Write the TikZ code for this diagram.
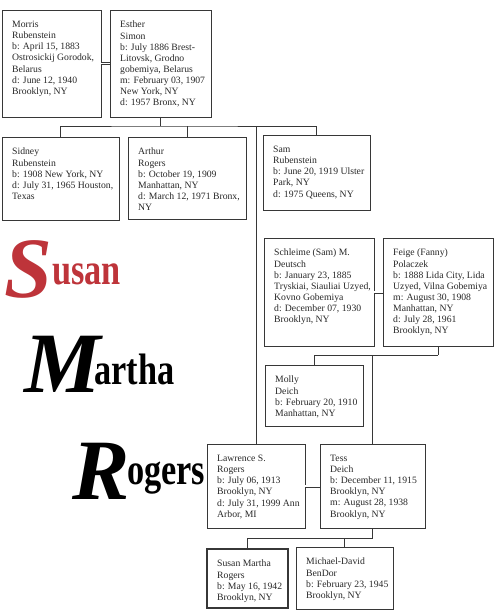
\documentclass[tikz,border=0pt]{standalone}
\usepackage{fontspec}
\setmainfont{Liberation Serif}
\newfontfamily\gothf{Liberation Serif Bold}[FakeStretch=0.78]
\newfontfamily\initf{Liberation Serif Bold Italic}
\usetikzlibrary{calc}
\definecolor{linec}{RGB}{55,55,55}
\definecolor{txt}{RGB}{40,40,40}
\definecolor{fred}{RGB}{190,52,58}
\tikzset{
  pbox/.style={draw=linec, line width=0.9pt, inner sep=0pt, outer sep=0pt, anchor=north west},
  ptext/.style={anchor=north west, inner sep=0pt, align=left, text=txt, font=\fontsize{9.7}{11.1}\selectfont},
  conn/.style={draw=linec, line width=0.9pt},
  dbl/.style={draw=linec, line width=0.7pt, double=white, double distance=1.6pt},
  initial/.style={anchor=base west, inner sep=0pt, font=\fontsize{86}{86}\initf},
  goth/.style={anchor=base west, inner sep=0pt, font=\fontsize{44}{44}\gothf}
}
\newcommand\fambox[6]{%
  \node[pbox, minimum width=#4pt, minimum height=#5pt] (#1) at (#2,#3) {};
  \node[ptext] (#1-t) at ([xshift=10pt,yshift=-11pt]#1.north west) {#6};}
\begin{document}
\begin{tikzpicture}[x=1pt,y=-1pt]
\useasboundingbox (0,0) rectangle (500,615);
\fill[white] (0,0) rectangle (500,615);

\fambox{morris}{2}{10}{99}{107}{Morris\\Rubenstein\\b: April 15, 1883\\Ostrosickij Gorodok,\\Belarus\\d: June 12, 1940\\Brooklyn, NY}
\fambox{esther}{110}{10}{101}{107}{Esther\\Simon\\b: July 1886 Brest-\\Litovsk, Grodno\\gobemiya, Belarus\\m: February 03, 1907\\New York, NY\\d: 1957 Bronx, NY}
\fambox{sidney}{2}{137}{117}{83}{Sidney\\Rubenstein\\b: 1908 New York, NY\\d: July 31, 1965 Houston,\\Texas}
\fambox{arthur}{128}{137}{118}{82}{Arthur\\Rogers\\b: October 19, 1909\\Manhattan, NY\\d: March 12, 1971 Bronx,\\NY}
\fambox{sam}{263}{135}{107}{75}{Sam\\Rubenstein\\b: June 20, 1919 Ulster\\Park, NY\\d: 1975 Queens, NY}
\fambox{schleime}{264}{238}{110}{108}{Schleime (Sam) M.\\Deutsch\\b: January 23, 1885\\Tryskiai, Siauliai Uzyed,\\Kovno Gobemiya\\d: December 07, 1930\\Brooklyn, NY}
\fambox{feige}{383}{238}{110}{108}{Feige (Fanny)\\Polaczek\\b: 1888 Lida City, Lida\\Uzyed, Vilna Gobemiya\\m: August 30, 1908\\Manhattan, NY\\d: July 28, 1961\\Brooklyn, NY}
\fambox{molly}{265}{365}{98}{61}{Molly\\Deich\\b: February 20, 1910\\Manhattan, NY}
\fambox{lawrence}{207}{444}{98}{84}{Lawrence S.\\Rogers\\b: July 06, 1913\\Brooklyn, NY\\d: July 31, 1999 Ann\\Arbor, MI}
\fambox{tess}{320}{444}{105}{84}{Tess\\Deich\\b: December 11, 1915\\Brooklyn, NY\\m: August 28, 1938\\Brooklyn, NY}
\fambox{susan}{207}{549}{81}{59}{Susan Martha\\Rogers\\b: May 16, 1942\\Brooklyn, NY}
\draw[draw=linec, line width=1.8pt] (susan.north west) rectangle (susan.south east);
\fambox{michael}{296}{547}{97}{62}{Michael-David\\BenDor\\b: February 23, 1945\\Brooklyn, NY}

% marriages
\draw[dbl] (morris.east) -- (esther.west);
\draw[dbl] (schleime.east) -- (feige.west);
\draw[dbl] (lawrence.east) -- (tess.west);

% children of Morris & Esther
\coordinate (bar1) at (161,126);
\draw[conn] (esther.south) -- (esther.south |- bar1);
\draw[conn] (sidney.north) |- (bar1) -| (sam.north);
\draw[conn] (arthur.north) -- (arthur.north |- bar1);
\draw[conn] (lawrence.north) -- (lawrence.north |- bar1);

% children of Schleime & Feige
\coordinate (bar2) at (438,355);
\draw[conn] (feige.south) -- (feige.south |- bar2);
\draw[conn] (molly.north) |- (bar2);
\draw[conn] (tess.north) -- (tess.north |- bar2);

% children of Lawrence & Tess
\coordinate (bar3) at (373,538);
\draw[conn] (tess.south) -- (tess.south |- bar3);
\draw[conn] (susan.north) |- (bar3);
\draw[conn] (michael.north) -- (michael.north |- bar3);

% decorative name
\node[initial, text=fred] (iS) at (4,297) {S};
\node[goth, text=fred] (wS) at (52,284) {usan};
\node[initial] (iM) at (24,392) {M};
\node[goth] (wM) at (94,384) {artha};
\node[initial] (iR) at (72,499) {R};
\node[goth] (wR) at (127,484) {ogers};
\end{tikzpicture}
\end{document}
